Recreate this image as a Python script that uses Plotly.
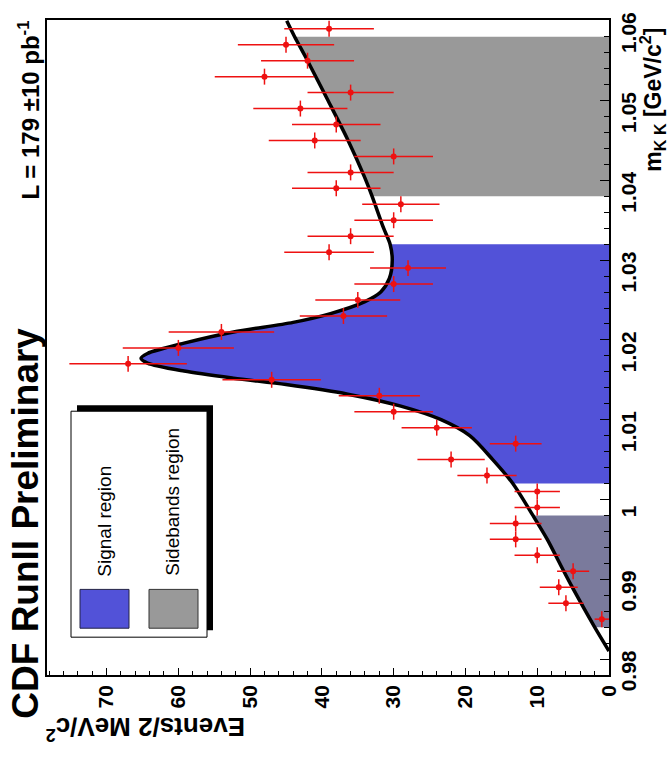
import numpy as np
import plotly.graph_objects as go

# K+K- invariant mass, bin centres in GeV/c^2 (2 MeV/c^2 bins)
mass = [0.985, 0.987, 0.989, 0.991, 0.993, 0.995, 0.997, 0.999, 1.001, 1.003,
        1.005, 1.007, 1.009, 1.011, 1.013, 1.015, 1.017, 1.019, 1.021, 1.023,
        1.025, 1.027, 1.029, 1.031, 1.033, 1.035, 1.037, 1.039, 1.041, 1.043,
        1.045, 1.047, 1.049, 1.051, 1.053, 1.055, 1.057, 1.059]
events = [1, 6, 7, 5, 10, 13, 13, 10, 10, 17,
          22, 13, 24, 30, 32, 47, 67, 60, 54, 37,
          35, 30, 28, 39, 36, 30, 29, 38, 36, 30,
          41, 38, 43, 36, 48, 42, 45, 39]
bin_half_width = 0.001

# fitted line shape (mass, events) sampled along the curve
fit_mass = [0.9810, 0.9840, 0.9875, 0.9910, 0.9950, 0.9980, 1.0020, 1.0050,
            1.0080, 1.0100, 1.0117, 1.0132, 1.0144, 1.0152, 1.0161, 1.0171,
            1.0177, 1.0183, 1.0196, 1.0210, 1.0222, 1.0233, 1.0248, 1.0260,
            1.0277, 1.0300, 1.0320, 1.0340, 1.0380, 1.0405, 1.0451, 1.0501,
            1.0550, 1.0580, 1.0600]
fit_events = [0.0, 2.0, 4.2, 6.3, 8.6, 10.6, 13.4, 16.2,
              19.4, 23.4, 29.0, 36.4, 45.0, 52.3, 59.2, 64.3,
              65.2, 64.3, 59.2, 52.3, 44.0, 38.8, 34.0, 31.8,
              30.6, 30.2, 30.5, 31.4, 33.0, 34.1, 36.4, 39.2,
              42.0, 43.8, 44.9]

# mass windows shaded under the fit
signal_window = (1.002, 1.032)
low_sideband = (0.984, 0.998)
high_sideband = (1.038, 1.058)

mass_ticks = [0.98, 0.99, 1.00, 1.01, 1.02, 1.03, 1.04, 1.05, 1.06]
mass_tick_labels = ["0.98", "0.99", "1", "1.01", "1.02", "1.03", "1.04", "1.05", "1.06"]
event_ticks = [0, 10, 20, 30, 40, 50, 60, 70]
event_tick_labels = ["0", "10", "20", "30", "40", "50", "60", "70"]

BLUE = "#5252d8"
GREY = "#999999"
SLATE = "#7a7a9c"
RED = "#ee1111"
FONT = "Liberation Sans, Arial, sans-serif"

W, H = 671, 759
L, R, T, B = 47, 62, 17, 84
PW, PH = W - L - R, H - T - B


def px(xp):
    return (xp - L) / PW


def py(yp):
    return (H - B - yp) / PH


fig = go.Figure()


def window_trace(lo, hi, color):
    xs = [e for m, e in zip(fit_mass, fit_events) if lo - 1e-9 <= m <= hi + 1e-9]
    ys = [m for m in fit_mass if lo - 1e-9 <= m <= hi + 1e-9]
    return go.Scatter(x=xs, y=ys, mode="lines", fill="tozerox", fillcolor=color,
                      line=dict(width=0, color=color, shape="spline", smoothing=0.8),
                      hoverinfo="skip", showlegend=False)


fig.add_trace(window_trace(*low_sideband, SLATE))
fig.add_trace(window_trace(*signal_window, BLUE))
fig.add_trace(window_trace(*high_sideband, GREY))

fig.add_trace(go.Scatter(
    x=fit_events, y=fit_mass, mode="lines",
    line=dict(color="black", width=3.5, shape="spline", smoothing=0.8),
    showlegend=False, hoverinfo="skip"))

fig.add_trace(go.Scatter(
    x=events, y=mass, mode="markers",
    marker=dict(color=RED, size=6),
    error_x=dict(type="data", array=np.sqrt(events), color=RED, thickness=1.5, width=0),
    error_y=dict(type="constant", value=bin_half_width, color=RED, thickness=1.5, width=0),
    showlegend=False))

fig.update_xaxes(
    range=[78.3, 0], tickvals=event_ticks, ticktext=event_tick_labels,
    ticks="inside", ticklen=7, tickwidth=1.2, tickcolor="black",
    minor=dict(dtick=2, ticks="inside", ticklen=4, tickcolor="black", tickwidth=1.2),
    tickangle=-90, tickfont=dict(family=FONT, size=21, color="black", weight="bold"),
    showline=True, linecolor="black", linewidth=1.5, mirror=True,
    showgrid=False, zeroline=False)

fig.update_yaxes(
    range=[0.978, 1.0601], side="right", tickvals=mass_ticks, ticktext=mass_tick_labels,
    ticks="inside", ticklen=9, tickwidth=1.2, tickcolor="black",
    minor=dict(dtick=0.002, tick0=0.98, ticks="inside", ticklen=5, tickcolor="black", tickwidth=1.2),
    tickangle=-90, ticklabelshift=15,
    tickfont=dict(family=FONT, size=21, color="black", weight="bold"),
    showline=True, linecolor="black", linewidth=1.5, mirror=True,
    showgrid=False, zeroline=False)

shapes = [
    # legend box with drop shadow
    dict(type="rect", xref="paper", yref="paper", x0=px(77), x1=px(213), y0=py(404), y1=py(630),
         fillcolor="black", line=dict(width=0)),
    dict(type="rect", xref="paper", yref="paper", x0=px(71), x1=px(207), y0=py(410), y1=py(637),
         fillcolor="white", line=dict(color="black", width=1)),
    dict(type="rect", xref="paper", yref="paper", x0=px(80), x1=px(129), y0=py(589), y1=py(628),
         fillcolor=BLUE, line=dict(color="#222244", width=1)),
    dict(type="rect", xref="paper", yref="paper", x0=px(149), x1=px(198), y0=py(589), y1=py(628),
         fillcolor=GREY, line=dict(color="#333333", width=1)),
]

annotations = [
    dict(text="<b>CDF RunII Preliminary</b>", x=px(26), y=py(523), textangle=-90,
         font=dict(family=FONT, size=37, color="black")),
    dict(text="<b>L = 179 ±10 pb<sup>-1</sup></b>", x=px(29), y=py(108), textangle=-90,
         font=dict(family=FONT, size=24, color="black")),
    dict(text="<b>Events/2 MeV/c<sup>2</sup></b>", x=px(146), y=py(728), textangle=180,
         font=dict(family=FONT, size=26, color="black")),
    dict(text="<b>m<sub>K K</sub> [GeV/c<sup>2</sup>]</b>", x=px(652), y=py(97), textangle=-90,
         font=dict(family=FONT, size=23, color="black")),
    dict(text="Signal region", x=px(105), y=py(521), textangle=-90,
         font=dict(family=FONT, size=19, color="black")),
    dict(text="Sidebands region", x=px(173), y=py(501), textangle=-90,
         font=dict(family=FONT, size=19, color="black")),
]
for a in annotations:
    a.update(xref="paper", yref="paper", showarrow=False, xanchor="center", yanchor="middle")

fig.update_layout(
    width=W, height=H, margin=dict(l=L, r=R, t=T, b=B),
    paper_bgcolor="white", plot_bgcolor="white",
    shapes=shapes, annotations=annotations, showlegend=False)

fig.write_html("out.html")
